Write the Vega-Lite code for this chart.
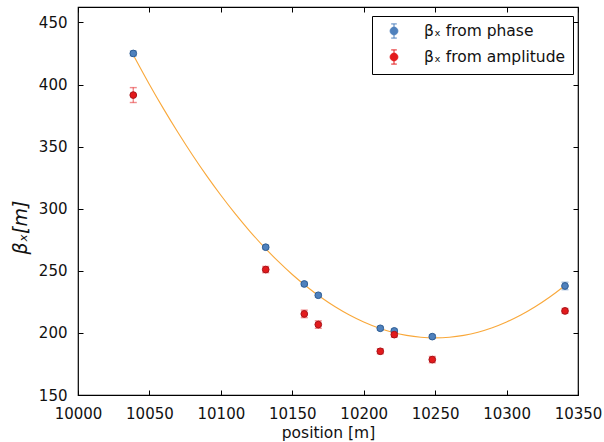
{
  "$schema": "https://vega.github.io/schema/vega-lite/v6.json",
  "autosize": "none",
  "width": 500,
  "height": 388,
  "padding": {"left": 78, "top": 7, "right": 26, "bottom": 47},
  "background": "white",
  "config": {
    "font": "DejaVu Sans",
    "view": {"stroke": "black", "strokeWidth": 1.2},
    "axis": {
      "grid": false,
      "domain": false,
      "tickColor": "black",
      "tickSize": -5,
      "tickWidth": 1,
      "labelFlush": false,
      "labelFont": "DejaVu Sans",
      "labelFontSize": 15,
      "labelColor": "#111",
      "titleFont": "DejaVu Sans",
      "titleFontWeight": "normal",
      "titleColor": "#111"
    }
  },
  "datasets": {
    "pts": [
      {"series": "phase", "position": 10038.7, "beta": 425.0, "err": 2.0},
      {"series": "phase", "position": 10131.4, "beta": 269.0, "err": 1.5},
      {"series": "phase", "position": 10158.4, "beta": 239.4, "err": 1.5},
      {"series": "phase", "position": 10168.2, "beta": 230.3, "err": 1.5},
      {"series": "phase", "position": 10211.6, "beta": 203.7, "err": 1.5},
      {"series": "phase", "position": 10221.4, "beta": 201.6, "err": 1.5},
      {"series": "phase", "position": 10248.0, "beta": 197.0, "err": 1.5},
      {"series": "phase", "position": 10340.9, "beta": 237.8, "err": 3.0},
      {"series": "amplitude", "position": 10038.7, "beta": 391.5, "err": 6.0},
      {"series": "amplitude", "position": 10131.4, "beta": 251.0, "err": 2.5},
      {"series": "amplitude", "position": 10158.4, "beta": 215.3, "err": 3.0},
      {"series": "amplitude", "position": 10168.2, "beta": 206.7, "err": 3.0},
      {"series": "amplitude", "position": 10211.6, "beta": 185.2, "err": 2.0},
      {"series": "amplitude", "position": 10221.4, "beta": 198.6, "err": 2.0},
      {"series": "amplitude", "position": 10248.0, "beta": 178.5, "err": 2.5},
      {"series": "amplitude", "position": 10340.9, "beta": 217.7, "err": 2.0}
    ],
    "fit": [
      {"position": 10038.7, "beta": 423.8},
      {"position": 10050, "beta": 400.08},
      {"position": 10060, "beta": 380.18},
      {"position": 10070, "beta": 361.31},
      {"position": 10080, "beta": 343.45},
      {"position": 10090, "beta": 326.61},
      {"position": 10100, "beta": 310.80},
      {"position": 10110, "beta": 296.0},
      {"position": 10120, "beta": 282.22},
      {"position": 10130, "beta": 269.47},
      {"position": 10140, "beta": 257.73},
      {"position": 10150, "beta": 247.02},
      {"position": 10160, "beta": 237.33},
      {"position": 10170, "beta": 228.65},
      {"position": 10180, "beta": 221.0},
      {"position": 10190, "beta": 214.37},
      {"position": 10200, "beta": 208.76},
      {"position": 10210, "beta": 204.16},
      {"position": 10220, "beta": 200.59},
      {"position": 10230, "beta": 198.04},
      {"position": 10240, "beta": 196.51},
      {"position": 10250, "beta": 196.0},
      {"position": 10260, "beta": 196.51},
      {"position": 10270, "beta": 198.04},
      {"position": 10280, "beta": 200.59},
      {"position": 10290, "beta": 204.16},
      {"position": 10300, "beta": 208.76},
      {"position": 10310, "beta": 214.37},
      {"position": 10320, "beta": 221.0},
      {"position": 10330, "beta": 228.65},
      {"position": 10340, "beta": 237.33},
      {"position": 10341, "beta": 238.25}
    ]
  },
  "resolve": {"axis": {"x": "independent", "y": "independent"}},
  "layer": [
    {
      "data": {"name": "fit"},
      "mark": {"type": "line", "color": "#f9a83a", "strokeWidth": 1.1, "interpolate": "monotone"},
      "encoding": {
        "x": {"field": "position", "type": "quantitative",
              "scale": {"domain": [10000, 10350], "nice": false, "zero": false},
              "axis": {"orient": "top", "labels": false, "title": null, "values": [10000, 10050, 10100, 10150, 10200, 10250, 10300, 10350]}},
        "y": {"field": "beta", "type": "quantitative",
              "scale": {"domain": [150, 462.4], "nice": false, "zero": false},
              "axis": {"orient": "right", "labels": false, "title": null, "values": [150, 200, 250, 300, 350, 400, 450]}}
      }
    },
    {
      "data": {"name": "pts"},
      "mark": {"type": "errorbar", "ticks": {"size": 7}, "thickness": 1.4, "opacity": 0.5},
      "encoding": {
        "x": {"field": "position", "type": "quantitative", "axis": null},
        "y": {"field": "beta", "type": "quantitative", "axis": null},
        "yError": {"field": "err"},
        "color": {"field": "series", "type": "nominal",
                  "scale": {"domain": ["phase", "amplitude"], "range": ["#4f81bd", "#e31a1c"]}}
      }
    },
    {
      "data": {"name": "pts"},
      "mark": {"type": "point", "filled": true, "size": 45, "opacity": 1, "strokeWidth": 1},
      "encoding": {
        "x": {"field": "position", "type": "quantitative",
              "axis": {"orient": "bottom", "title": "position [m]", "titleFontSize": 15.5, "titlePadding": 4, "labelPadding": 16,
                       "values": [10000, 10050, 10100, 10150, 10200, 10250, 10300, 10350], "format": "d"}},
        "y": {"field": "beta", "type": "quantitative",
              "axis": {"orient": "left", "title": "βₓ[m]", "titleFont": "DejaVu Sans", "titleFontStyle": "italic", "titleFontSize": 19,
                       "titlePadding": 8, "titleY": 220, "labelPadding": 16, "values": [150, 200, 250, 300, 350, 400, 450]}},
        "color": {"field": "series", "type": "nominal",
                  "scale": {"domain": ["phase", "amplitude"], "range": ["#4f81bd", "#e31a1c"]},
                  "legend": {
                    "title": null,
                    "orient": "none",
                    "legendX": 294,
                    "legendY": 9,
                    "direction": "vertical",
                    "fillColor": "white",
                    "strokeColor": "black",
                    "cornerRadius": 0,
                    "padding": 7,
                    "rowPadding": 6,
                    "symbolOffset": 7,
                    "symbolType": "M0,-1V1M-0.4,-1H0.4M-0.4,1H0.4M0.55,0A0.55,0.55,0,1,1,-0.55,0A0.55,0.55,0,1,1,0.55,0Z",
                    "symbolSize": 200,
                    "symbolStrokeWidth": 1,
                    "symbolOpacity": 1,
                    "labelFontSize": 15.5,
                    "labelFont": "DejaVu Sans",
                    "labelColor": "#111",
                    "labelOffset": 22,
                    "labelExpr": "datum.value == 'phase' ? 'βₓ from phase' : 'βₓ from amplitude'",
                    "encode": {"symbols": {"update": {"stroke": {"scale": "color", "field": "value"}}}}
                  }},
        "stroke": {"field": "series", "type": "nominal",
                   "scale": {"domain": ["phase", "amplitude"], "range": ["#2e5d94", "#a8141a"]},
                   "legend": null}
      }
    }
  ]
}
